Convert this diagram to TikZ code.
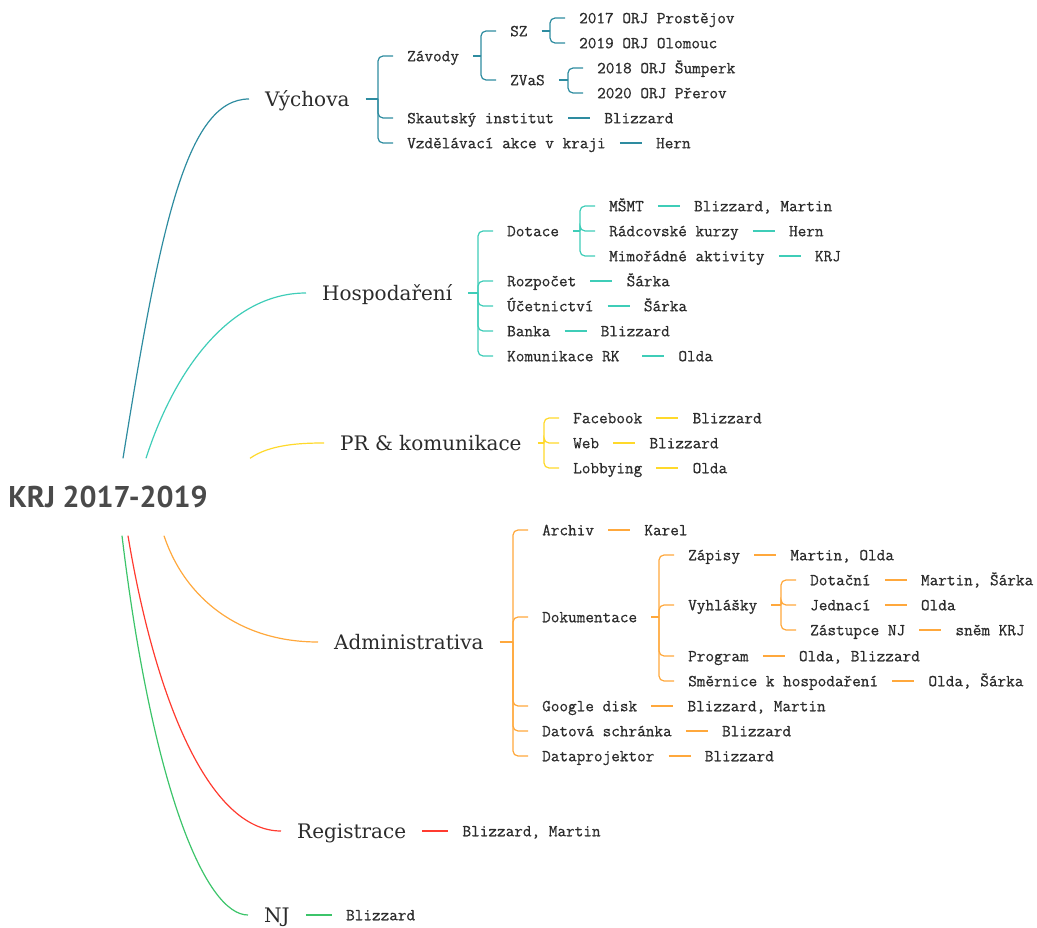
\documentclass[tikz,border=0pt]{standalone}
\usepackage{fontspec}
\usetikzlibrary{positioning}
\newfontfamily\rootfont{PT Sans}
\newfontfamily\topicfont{DejaVu Serif}
\newfontfamily\itemfont{Latin Modern Mono}[FakeBold=0.6]
\definecolor{ink}{HTML}{2B2B2B}
\definecolor{rootgray}{HTML}{4A4A4A}
\definecolor{cVyc}{HTML}{2E8CA0}
\definecolor{cHos}{HTML}{3FCDB8}
\definecolor{cPR}{HTML}{FFD92A}
\definecolor{cAdm}{HTML}{FFA83C}
\definecolor{cReg}{HTML}{FF3B30}
\definecolor{cNJ}{HTML}{3CC46A}
\tikzstyle{root}=[font=\rootfont\bfseries\fontsize{30}{34}\selectfont, text=rootgray, minimum height=77pt, text height=21pt, text depth=0pt, inner sep=0pt]
\tikzstyle{topic}=[anchor=west, inner xsep=16pt, text height=14.5pt, text depth=0pt, text=ink, font=\topicfont\fontsize{20}{24}\selectfont]
\tikzstyle{item}=[anchor=west, inner xsep=14pt, text height=10.5pt, text depth=0pt, text=ink, font=\itemfont\fontsize{16.76}{20}\selectfont]
\tikzstyle{link}=[line width=1.2pt, rounded corners=5pt]

\begin{document}
\begin{tikzpicture}[x=1pt, y=-1pt]
\useasboundingbox (0,0) rectangle (1037,928);

\node[root] (krj) at (108,497) {KRJ 2017-2019};

\node[topic] (vych) at (249,99) {Výchova};
\node[topic] (hosp) at (306,293) {Hospodaření};
\node[topic] (pr) at (324,443) {PR \& komunikace};
\node[topic] (adm) at (318,642) {Administrativa};
\node[topic] (reg) at (281,831) {Registrace};
\node[topic] (nj) at (248,915) {NJ};

\draw[link, cVyc] ([xshift=15pt]krj.north) .. controls +(37,-230) and +(-63,0) .. (vych.west);
\draw[link, cHos] ([xshift=38pt]krj.north) .. controls +(29,-90) and +(-75,0) .. (hosp.west);
\draw[link, cPR] ([xshift=142pt]krj.north) .. controls +(20,-14) and +(-23,0) .. (pr.west);
\draw[link, cAdm] ([xshift=56pt]krj.south) .. controls +(21,63) and +(-78,0) .. (adm.west);
\draw[link, cReg] ([xshift=20pt]krj.south) .. controls +(27,163) and +(-72,0) .. (reg.west);
\draw[link, cNJ] ([xshift=14pt]krj.south) .. controls +(30,250) and +(-43,0) .. (nj.west);

\node[item] (zav) at (393,56) {Závody};
\node[item] (skaut) at (393,118) {Skautský institut};
\node[item] (vzdel) at (393,143) {Vzdělávací akce v kraji};
\node[item] (sz) at (496,31) {SZ};
\node[item] (zvas) at (496,80) {ZVaS};
\node[item] (prost) at (565,18) {2017 ORJ Prostějov};
\node[item] (olom) at (565,43) {2019 ORJ Olomouc};
\node[item] (sump) at (583,68) {2018 ORJ Šumperk};
\node[item] (prer) at (583,93) {2020 ORJ Přerov};
\node[item, right=22pt of skaut] (skautp) {Blizzard};
\node[item, right=22pt of vzdel] (vzdelp) {Hern};

\draw[link, cVyc] (vych.east) -- ([xshift=-15pt]vych.east -| zav.west) coordinate (vychb);
\foreach \c in {zav, skaut, vzdel} \draw[link, cVyc] (vychb) |- (\c.west);
\draw[link, cVyc] (zav.east) -- ([xshift=-15pt]zav.east -| sz.west) coordinate (zavb);
\foreach \c in {sz, zvas} \draw[link, cVyc] (zavb) |- (\c.west);
\draw[link, cVyc] (sz.east) -- ([xshift=-15pt]sz.east -| prost.west) coordinate (szb);
\foreach \c in {prost, olom} \draw[link, cVyc] (szb) |- (\c.west);
\draw[link, cVyc] (zvas.east) -- ([xshift=-15pt]zvas.east -| sump.west) coordinate (zvasb);
\foreach \c in {sump, prer} \draw[link, cVyc] (zvasb) |- (\c.west);
\draw[link, cVyc] (skaut.east) -- (skautp.west);
\draw[link, cVyc] (vzdel.east) -- (vzdelp.west);

\node[item] (dot) at (493,231) {Dotace};
\node[item] (rozp) at (493,281) {Rozpočet};
\node[item] (ucet) at (493,306) {Účetnictví};
\node[item] (banka) at (493,331) {Banka};
\node[item] (komrk) at (493,356) {Komunikace RK\phantom{x}};
\node[item] (msmt) at (595,206) {MŠMT};
\node[item] (radc) at (595,231) {Rádcovské kurzy};
\node[item] (mimo) at (595,256) {Mimořádné aktivity};
\node[item, right=22pt of msmt] (msmtp) {Blizzard, Martin};
\node[item, right=22pt of radc] (radcp) {Hern};
\node[item, right=22pt of mimo] (mimop) {KRJ};
\node[item, right=22pt of rozp] (rozpp) {Šárka};
\node[item, right=22pt of ucet] (ucetp) {Šárka};
\node[item, right=22pt of banka] (bankap) {Blizzard};
\node[item, right=22pt of komrk] (komrkp) {Olda};

\draw[link, cHos] (hosp.east) -- ([xshift=-15pt]hosp.east -| dot.west) coordinate (hospb);
\foreach \c in {dot, rozp, ucet, banka, komrk} \draw[link, cHos] (hospb) |- (\c.west);
\draw[link, cHos] (dot.east) -- ([xshift=-15pt]dot.east -| msmt.west) coordinate (dotb);
\foreach \c in {msmt, radc, mimo} \draw[link, cHos] (dotb) |- (\c.west);
\foreach \a/\b in {msmt/msmtp, radc/radcp, mimo/mimop, rozp/rozpp, ucet/ucetp, banka/bankap, komrk/komrkp}
  \draw[link, cHos] (\a.east) -- (\b.west);

\node[item] (fb) at (559,418) {Facebook};
\node[item] (web) at (559,443) {Web};
\node[item] (lobby) at (559,468) {Lobbying};
\node[item, right=22pt of fb] (fbp) {Blizzard};
\node[item, right=22pt of web] (webp) {Blizzard};
\node[item, right=22pt of lobby] (lobbyp) {Olda};

\draw[link, cPR] (pr.east) -- ([xshift=-15pt]pr.east -| fb.west) coordinate (prb);
\foreach \c in {fb, web, lobby} \draw[link, cPR] (prb) |- (\c.west);
\foreach \a/\b in {fb/fbp, web/webp, lobby/lobbyp} \draw[link, cPR] (\a.east) -- (\b.west);

\node[item] (arch) at (528,530) {Archiv};
\node[item] (doku) at (528,617) {Dokumentace};
\node[item] (gdisk) at (528,706) {Google disk};
\node[item] (dats) at (528,731) {Datová schránka};
\node[item] (dproj) at (528,756) {Dataprojektor};
\node[item] (zap) at (674,555) {Zápisy};
\node[item] (vyhl) at (674,605) {Vyhlášky};
\node[item] (prog) at (674,656) {Program};
\node[item] (smer) at (674,681) {Směrnice k hospodaření};
\node[item] (dotac) at (796,580) {Dotační};
\node[item] (jedn) at (796,605) {Jednací};
\node[item] (zast) at (796,630) {Zástupce NJ};
\node[item, right=22pt of arch] (archp) {Karel};
\node[item, right=22pt of gdisk] (gdiskp) {Blizzard, Martin};
\node[item, right=22pt of dats] (datsp) {Blizzard};
\node[item, right=22pt of dproj] (dprojp) {Blizzard};
\node[item, right=22pt of zap] (zapp) {Martin, Olda};
\node[item, right=22pt of prog] (progp) {Olda, Blizzard};
\node[item, right=22pt of smer] (smerp) {Olda, Šárka};
\node[item, right=22pt of dotac] (dotacp) {Martin, Šárka};
\node[item, right=22pt of jedn] (jednp) {Olda};
\node[item, right=22pt of zast] (zastp) {sněm KRJ};

\draw[link, cAdm] (adm.east) -- ([xshift=-15pt]adm.east -| arch.west) coordinate (admb);
\foreach \c in {arch, doku, gdisk, dats, dproj} \draw[link, cAdm] (admb) |- (\c.west);
\draw[link, cAdm] (doku.east) -- ([xshift=-15pt]doku.east -| zap.west) coordinate (dokub);
\foreach \c in {zap, vyhl, prog, smer} \draw[link, cAdm] (dokub) |- (\c.west);
\draw[link, cAdm] (vyhl.east) -- ([xshift=-15pt]vyhl.east -| dotac.west) coordinate (vyhlb);
\foreach \c in {dotac, jedn, zast} \draw[link, cAdm] (vyhlb) |- (\c.west);
\foreach \a/\b in {arch/archp, gdisk/gdiskp, dats/datsp, dproj/dprojp, zap/zapp, prog/progp, smer/smerp, dotac/dotacp, jedn/jednp, zast/zastp}
  \draw[link, cAdm] (\a.east) -- (\b.west);

\node[item, right=26pt of reg] (regp) {Blizzard, Martin};
\draw[link, cReg] (reg.east) -- (regp.west);
\node[item, right=26pt of nj] (njp) {Blizzard};
\draw[link, cNJ] (nj.east) -- (njp.west);
\end{tikzpicture}
\end{document}
